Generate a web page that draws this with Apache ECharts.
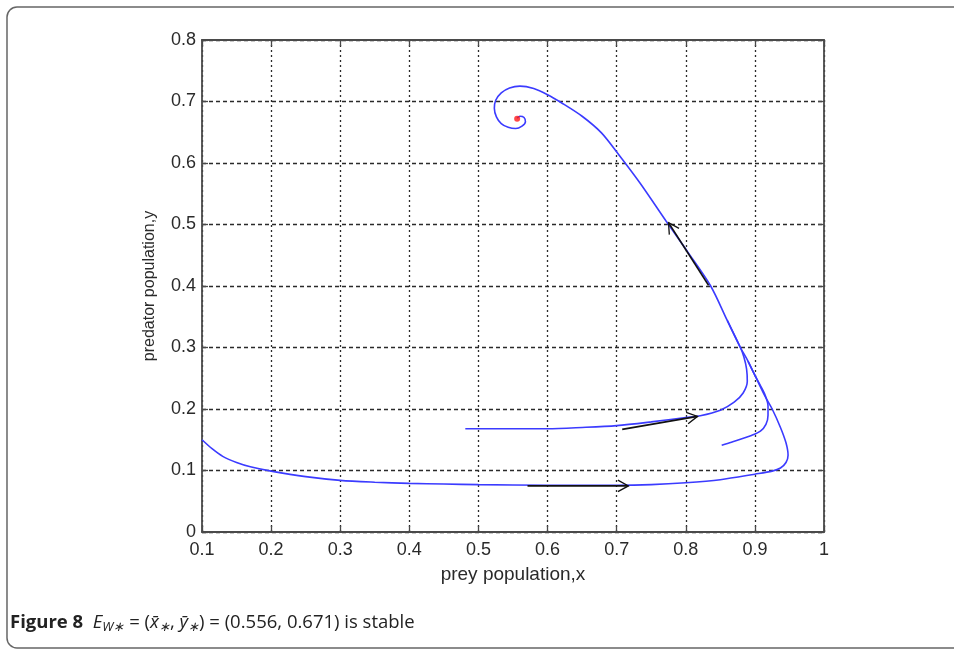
<!DOCTYPE html>
<html>
<head>
<meta charset="utf-8">
<script src="https://cdn.jsdelivr.net/npm/echarts@6/dist/echarts.min.js"></script>
<style>
	html, body { margin: 0; padding: 0; background: #fff; }
	#phasechart { width: 954px; height: 649px; }
</style>
</head>
<body>
<div id="phasechart"></div>
<script>
	// trajectories (prey x, predator y)
	var orbitA = [
		[0.100, 0.150], [0.115, 0.135], [0.130, 0.123], [0.150, 0.113], [0.170, 0.106],
		[0.200, 0.099], [0.250, 0.090], [0.300, 0.084], [0.350, 0.081], [0.400, 0.079],
		[0.450, 0.078], [0.500, 0.077], [0.600, 0.076], [0.700, 0.076], [0.750, 0.077],
		[0.800, 0.080], [0.850, 0.085], [0.900, 0.094], [0.925, 0.099], [0.937, 0.104],
		[0.945, 0.113], [0.948, 0.125], [0.945, 0.145], [0.937, 0.170], [0.925, 0.200],
		[0.915, 0.220], [0.902, 0.250], [0.890, 0.278], [0.879, 0.300], [0.860, 0.344],
		[0.836, 0.400], [0.803, 0.455], [0.773, 0.503], [0.734, 0.567], [0.702, 0.615],
		[0.678, 0.649], [0.650, 0.676], [0.620, 0.698], [0.600, 0.711], [0.580, 0.721],
		[0.560, 0.725], [0.545, 0.722], [0.533, 0.714], [0.525, 0.702], [0.523, 0.689],
		[0.526, 0.675], [0.533, 0.664], [0.543, 0.658], [0.554, 0.656], [0.563, 0.660],
		[0.568, 0.667], [0.566, 0.674], [0.560, 0.676], [0.556, 0.673]
	];
	var orbitB = [
		[0.481, 0.168], [0.550, 0.168], [0.600, 0.168], [0.650, 0.170], [0.700, 0.173],
		[0.750, 0.179], [0.800, 0.186], [0.821, 0.189], [0.850, 0.198], [0.870, 0.211],
		[0.883, 0.226], [0.889, 0.245], [0.888, 0.265], [0.884, 0.285], [0.879, 0.300],
		[0.860, 0.344]
	];
	var orbitC = [
		[0.852, 0.141], [0.866, 0.146], [0.879, 0.151], [0.895, 0.157], [0.908, 0.164],
		[0.916, 0.175], [0.919, 0.190], [0.919, 0.205], [0.915, 0.222], [0.908, 0.238],
		[0.900, 0.255], [0.890, 0.278]
	];
	// direction arrows: [x from, y from, x to, y to]
	var arrows = [
		[0.833, 0.401, 0.775, 0.503],
		[0.571, 0.075, 0.717, 0.075],
		[0.708, 0.167, 0.817, 0.188]
	];
	var equilibrium = [[0.556, 0.672]];

	var xMin = 0.1, xMax = 1, yMin = 0, yMax = 0.8, step = 0.1;

	var tickFmt = function (v) {
		return String(Math.round(v * 10) / 10);
	};

	var phaseChart = echarts.init(document.getElementById('phasechart'));

	var gridLine = function (dash) {
		return {
			show: true,
			lineStyle: { type: dash, color: '#2a2a2a', width: 1.3 }
		};
	};
	var boxLine = {
		show: true,
		onZero: false,
		lineStyle: { color: '#4a4a4a', width: 1.8 }
	};
	var tickIn = { show: true, inside: true, length: 6, lineStyle: { color: '#4a4a4a', width: 1.3 } };
	var tickLabel = { show: true, fontFamily: 'Liberation Sans', fontSize: 18, color: '#2a2a2a' };

	var arrowItem = function (params, api) {
		var p0 = api.coord([api.value(0), api.value(1)]);
		var p1 = api.coord([api.value(2), api.value(3)]);
		var a = Math.atan2(p1[1] - p0[1], p1[0] - p0[0]);
		var len = 12, spread = 0.5;
		var h1 = [p1[0] - len * Math.cos(a - spread), p1[1] - len * Math.sin(a - spread)];
		var h2 = [p1[0] - len * Math.cos(a + spread), p1[1] - len * Math.sin(a + spread)];
		return {
			type: 'group',
			children: [{
				type: 'line',
				shape: { x1: p0[0], y1: p0[1], x2: p1[0], y2: p1[1] },
				style: { stroke: '#111', lineWidth: 1.7 }
			}, {
				type: 'polyline',
				shape: { points: [h1, p1, h2] },
				style: { stroke: '#111', lineWidth: 1.3, fill: null }
			}]
		};
	};

	var orbitSeries = function (data) {
		return {
			type: 'line',
			data: data,
			showSymbol: false,
			smooth: 0.3,
			lineStyle: { color: '#3b3bff', width: 1.6 },
			z: 3
		};
	};

	var phaseOption = {
		animation: false,
		backgroundColor: '#fff',
		grid: { left: 202, right: 130, top: 40, bottom: 117 },
		xAxis: [{
			type: 'value', min: xMin, max: xMax, interval: step,
			name: 'prey population,x', nameLocation: 'middle', nameGap: 33,
			nameTextStyle: { fontFamily: 'Liberation Sans', fontSize: 19, color: '#2a2a2a' },
			axisLine: boxLine, axisTick: tickIn,
			axisLabel: Object.assign({ margin: 9, formatter: tickFmt }, tickLabel),
			splitLine: gridLine([2, 3])
		}, {
			type: 'value', min: xMin, max: xMax, interval: step, position: 'top',
			axisLine: boxLine, axisTick: tickIn, axisLabel: { show: false }, splitLine: { show: false }
		}],
		yAxis: [{
			type: 'value', min: yMin, max: yMax, interval: step,
			name: 'predator population,y', nameLocation: 'middle', nameGap: 44,
			nameTextStyle: { fontFamily: 'Liberation Sans', fontSize: 16, color: '#2a2a2a' },
			axisLine: boxLine, axisTick: tickIn,
			axisLabel: Object.assign({ margin: 6, formatter: tickFmt }, tickLabel),
			splitLine: gridLine([4, 3])
		}, {
			type: 'value', min: yMin, max: yMax, interval: step, position: 'right',
			axisLine: boxLine, axisTick: tickIn, axisLabel: { show: false }, splitLine: { show: false }
		}],
		series: [
			orbitSeries(orbitA),
			orbitSeries(orbitB),
			orbitSeries(orbitC),
			{
				type: 'custom',
				data: arrows,
				encode: { x: [0, 2], y: [1, 3] },
				renderItem: arrowItem,
				z: 4
			},
			{
				type: 'scatter',
				data: equilibrium,
				symbolSize: 6,
				itemStyle: { color: '#ff1a1a' },
				z: 5
			}
		],
		graphic: [{
			type: 'rect',
			shape: { x: 7, y: 7, width: 1000, height: 641, r: 10 },
			style: { fill: null, stroke: '#666', lineWidth: 1.5 },
			silent: true
		}, {
			type: 'text',
			left: 10,
			top: 613,
			style: {
				text: '{b|Figure 8}  {i|E}{s|W∗} = ({i|x̄}{s|∗}, {i|ȳ}{s|∗}) = (0.556, 0.671) is stable',
				fontFamily: 'Open Sans',
				fontSize: 18.5,
				fill: '#222',
				rich: {
					b: { fontFamily: 'Open Sans', fontWeight: 'bold', fontSize: 18.5, fill: '#222', lineHeight: 22 },
					i: { fontFamily: 'Open Sans', fontStyle: 'italic', fontSize: 18.5, fill: '#222', lineHeight: 22 },
					s: { fontFamily: 'Open Sans', fontStyle: 'italic', fontSize: 13, fill: '#222', lineHeight: 13, verticalAlign: 'bottom' }
				}
			}
		}]
	};

	phaseChart.setOption(phaseOption);
</script>
</body>
</html>
